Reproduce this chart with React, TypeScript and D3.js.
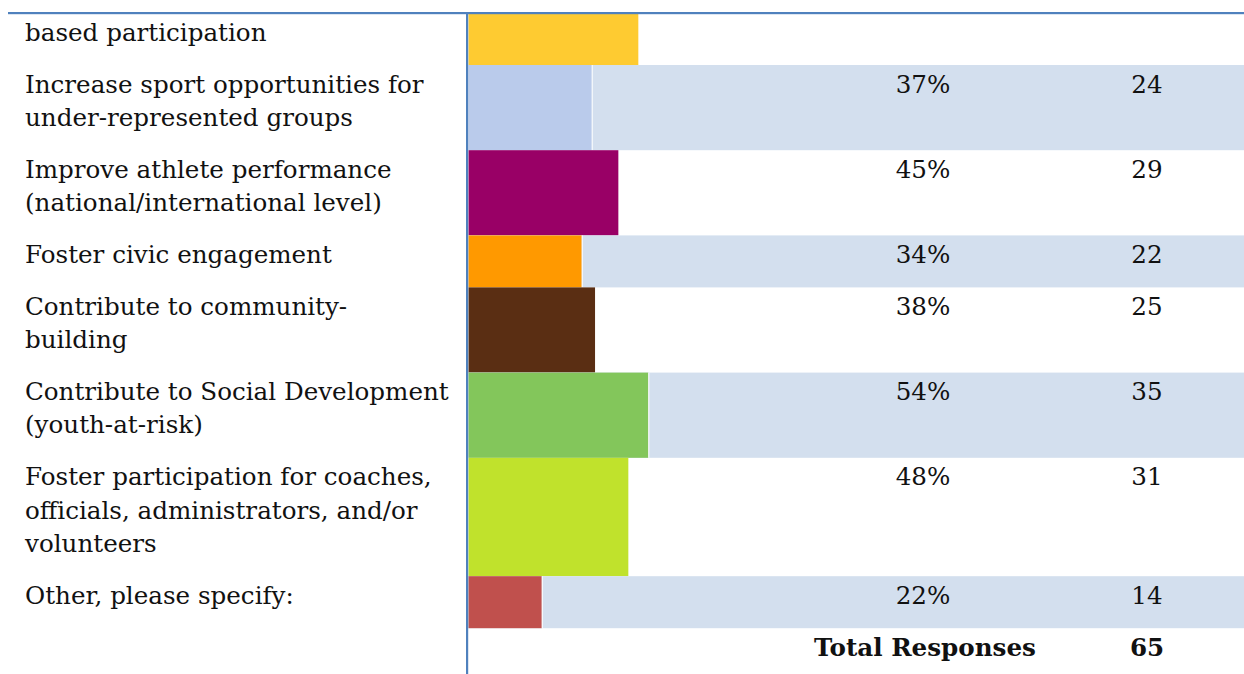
import React from 'react';
import * as d3 from 'd3';

// rows of the survey table (first row is cut off at the top of the page)
const labels: string[][] = [
  ['', 'based participation'],
  ['Increase sport opportunities for', 'under-represented groups'],
  ['Improve athlete performance', '(national/international level)'],
  ['Foster civic engagement'],
  ['Contribute to community-', 'building'],
  ['Contribute to Social Development', '(youth-at-risk)'],
  ['Foster participation for coaches,', 'officials, administrators, and/or', 'volunteers'],
  ['Other, please specify:'],
];
const percents = [51, 37, 45, 34, 38, 54, 48, 22];
const counts: (number | null)[] = [null, 24, 29, 22, 25, 35, 31, 14];
const barColors = ['#fecb31', '#bacbeb', '#990066', '#ff9900', '#5a2e13', '#83c65b', '#c0e22c', '#c0504d'];
const totalLabel = 'Total Responses';
const totalCount = 65;

const W = 1244;
const H = 674;
const FONT = '"DejaVu Serif", serif';

export default function App() {
  const rowPad = 18.8;
  const lineH = 33.2;
  const heights = labels.map(l => rowPad + lineH * l.length);
  const firstTop = 65 - heights[0];
  const tops = [firstTop, ...Array.from(d3.cumsum(heights)).map(c => firstTop + c)];
  const totalTop = tops[labels.length];

  const barX0 = 468.5;
  const x = d3.scaleLinear().domain([0, 100]).range([0, 333]);
  const pctX = 923;
  const cntX = 1147;
  const fs = 24.6;

  return (
    <svg width={W} height={H} style={{ position: 'fixed', left: 0, top: 0, background: '#fff' }}>
      <defs>
        <clipPath id="body">
          <rect x={0} y={14} width={W} height={H - 14} />
        </clipPath>
      </defs>
      <g clipPath="url(#body)">
        {labels.map((lines, i) => {
          const top = tops[i];
          const h = heights[i];
          const w = x(percents[i]);
          const banded = i % 2 === 1;
          return (
            <g key={i}>
              {banded && <rect x={barX0} y={top} width={W - barX0} height={h} fill="#d3dfee" />}
              <rect x={barX0} y={top} width={w} height={h} fill={barColors[i]} />
              {banded && <rect x={barX0 + w} y={top} width={1} height={h} fill="#fff" />}
              {lines.map((t, j) =>
                t ? (
                  <text key={j} x={25} y={top + 19 + j * lineH} dy="0.35em" fontFamily={FONT} fontSize={fs} fill="#111">
                    {t}
                  </text>
                ) : null
              )}
              {counts[i] !== null && (
                <>
                  <text x={pctX} y={top + 19} dy="0.35em" textAnchor="middle" fontFamily={FONT} fontSize={fs} fill="#111">
                    {d3.format('d')(percents[i])}%
                  </text>
                  <text x={cntX} y={top + 19} dy="0.35em" textAnchor="middle" fontFamily={FONT} fontSize={fs} fill="#111">
                    {counts[i]}
                  </text>
                </>
              )}
            </g>
          );
        })}
        <text x={925} y={totalTop + 19} dy="0.35em" textAnchor="middle" fontFamily={FONT} fontSize={fs} fontWeight="bold" fill="#111">
          {totalLabel}
        </text>
        <text x={cntX} y={totalTop + 19} dy="0.35em" textAnchor="middle" fontFamily={FONT} fontSize={fs} fontWeight="bold" fill="#111">
          {totalCount}
        </text>
      </g>
      <rect x={8} y={12} width={W - 8} height={2.2} fill="#4f81bd" />
      <rect x={466} y={12} width={2.2} height={H - 12} fill="#4f81bd" />
    </svg>
  );
}
